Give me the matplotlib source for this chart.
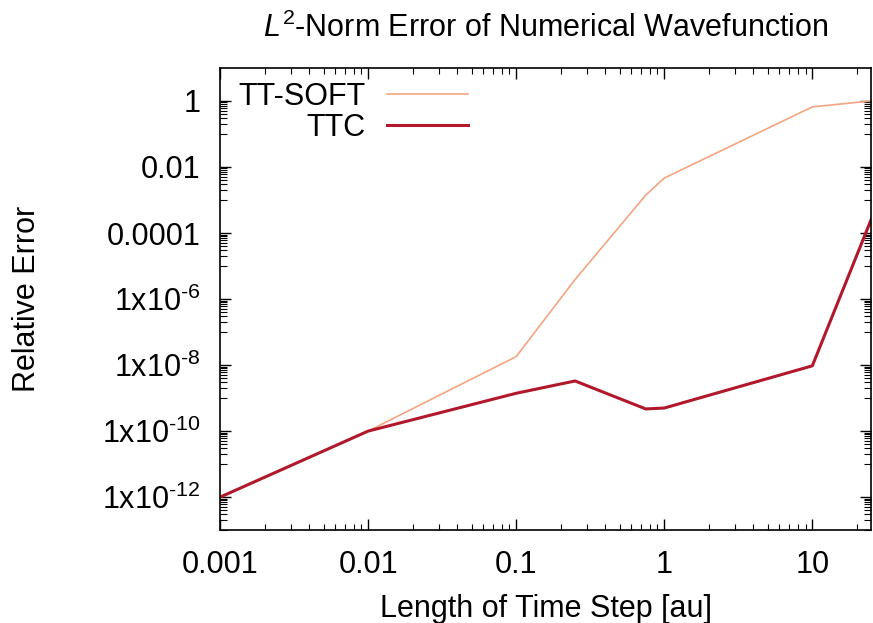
import numpy as np
from matplotlib import pyplot as plt
from matplotlib import ticker

plt.rcParams['font.family'] = ['Liberation Sans', 'DejaVu Sans']
plt.rcParams['mathtext.fontset'] = 'custom'
plt.rcParams['mathtext.rm'] = 'Liberation Sans'
plt.rcParams['mathtext.it'] = 'Liberation Sans:italic'

# time steps [au]
dt = [0.001, 0.01, 0.1, 0.25, 0.75, 1.0, 10.0, 25.0]
# relative L2 errors
err_soft = [1e-12, 1e-10, 1.8e-8, 3.9e-6, 1.4e-3, 4.6e-3, 0.66, 1.0]
err_ttc = [1e-12, 1e-10, 1.4e-9, 3.3e-9, 4.7e-10, 5e-10, 9.5e-9, 2.6e-4]

ytick_vals = [1e-12, 1e-10, 1e-8, 1e-6, 1e-4, 1e-2, 1]
ytick_labels = [r'1x10$^{\text{-12}}$', r'1x10$^{\text{-10}}$',
                r'1x10$^{\text{-8}}$', r'1x10$^{\text{-6}}$',
                '0.0001', '0.01', '1']
xtick_vals = [0.001, 0.01, 0.1, 1, 10]
xtick_labels = ['0.001', '0.01', '0.1', '1', '10']

fig = plt.figure(figsize=(8.73, 6.23), dpi=100)
ax = fig.add_axes([0.252, 0.149, 0.746, 0.742])

ax.plot(dt, err_soft, color='#f4a582', lw=1.2, label='TT-SOFT')
ax.plot(dt, err_ttc, color='#b2182b', lw=2.2, label='TTC')

ax.set_xscale('log')
ax.set_yscale('log')
ax.set_xlim(0.001, 25)
ax.set_ylim(1e-13, 10)

ax.set_xticks(xtick_vals)
ax.set_xticklabels(xtick_labels)
ax.set_yticks(ytick_vals)
ax.set_yticklabels(ytick_labels)
ax.xaxis.set_minor_locator(ticker.LogLocator(base=10, subs=np.arange(2, 10), numticks=50))
# gnuplot-style minor ticks: one decade's worth below each major tick
yminor = [m * 10.0 ** e for e in range(-13, 1, 2) for m in range(1, 10)]
ax.yaxis.set_minor_locator(ticker.FixedLocator(yminor))
ax.xaxis.set_minor_formatter(ticker.NullFormatter())
ax.yaxis.set_minor_formatter(ticker.NullFormatter())

ax.tick_params(which='both', direction='in', top=True, right=True, labelsize=22)
ax.tick_params(which='major', length=8, width=1)
ax.tick_params(axis='x', which='minor', length=4, width=0.8)
ax.tick_params(axis='y', which='minor', length=5, width=0.8)
ax.tick_params(axis='x', pad=14)
ax.tick_params(axis='y', pad=14)
for s in ax.spines.values():
    s.set_linewidth(1.2)

ax.set_title(r'$\mathit{L}^{\mathregular{2}}$-Norm Error of Numerical Wavefunction',
             fontsize=22, pad=22)
ax.set_xlabel('Length of Time Step [au]', fontsize=22, labelpad=10)
ax.set_ylabel('Relative Error', fontsize=22, labelpad=43)

ax.legend(loc='upper left', bbox_to_anchor=(-0.014, 1.03), frameon=False, markerfirst=False,
          fontsize=22, handlelength=2.65, handletextpad=0.7, labelspacing=0.05)

fig.savefig('out.png', dpi=100)
